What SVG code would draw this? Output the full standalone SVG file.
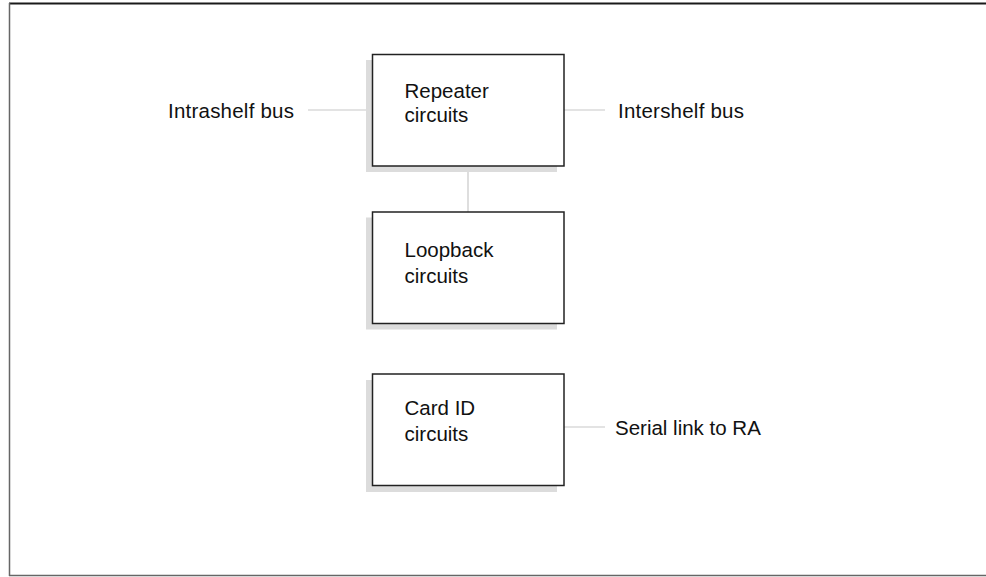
<svg xmlns="http://www.w3.org/2000/svg" width="986" height="577" viewBox="0 0 986 577">
  <style>
    .frame-top { stroke: #1a1a1a; stroke-width: 2; fill: none; }
    .frame-side { stroke: #666; stroke-width: 1.5; fill: none; }
    .shadow { fill: #dcdcdc; }
    .box { fill: #fff; stroke: #222; stroke-width: 1.5; }
    .conn { stroke: #c8c8c8; stroke-width: 1.2; fill: none; }
    .label { font-family: "Liberation Sans", Arial, Helvetica, sans-serif; font-size: 20.5px; fill: #111; }
  </style>

  <rect width="986" height="577" fill="#fff"/>

  <!-- page frame -->
  <g id="frame">
    <line class="frame-top" x1="9" y1="3.5" x2="986" y2="3.5"/>
    <line class="frame-side" x1="9.5" y1="3" x2="9.5" y2="576"/>
    <line class="frame-side" x1="9" y1="575.5" x2="986" y2="575.5"/>
  </g>

  <!-- connectors -->
  <g id="connectors">
    <line class="conn" x1="308" y1="110" x2="372" y2="110"/>
    <line class="conn" x1="564" y1="110" x2="605" y2="110"/>
    <line class="conn" x1="468" y1="166" x2="468" y2="212"/>
    <line class="conn" x1="564" y1="427" x2="605" y2="427"/>
  </g>

  <g id="repeater">
    <rect class="shadow" x="366" y="60" width="191" height="112"/>
    <rect class="box" x="372.5" y="54.5" width="191.5" height="111.5"/>
    <text class="label" x="404.5" y="98">Repeater</text>
    <text class="label" x="404.5" y="121.5">circuits</text>
  </g>

  <g id="loopback">
    <rect class="shadow" x="366" y="217.5" width="191" height="112"/>
    <rect class="box" x="372.5" y="212" width="191.5" height="111.5"/>
    <text class="label" x="404.5" y="256.5">Loopback</text>
    <text class="label" x="404.5" y="282.5">circuits</text>
  </g>

  <g id="card-id">
    <rect class="shadow" x="366" y="380" width="191" height="112"/>
    <rect class="box" x="372.5" y="374" width="191.5" height="111.5"/>
    <text class="label" x="404.5" y="415">Card ID</text>
    <text class="label" x="404.5" y="440.5">circuits</text>
  </g>

  <g id="intrashelf-bus">
    <text class="label" x="168" y="118" textLength="126">Intrashelf bus</text>
  </g>

  <g id="intershelf-bus">
    <text class="label" x="618" y="118" textLength="126">Intershelf bus</text>
  </g>

  <g id="serial-link">
    <text class="label" x="615" y="435">Serial link to RA</text>
  </g>
</svg>
